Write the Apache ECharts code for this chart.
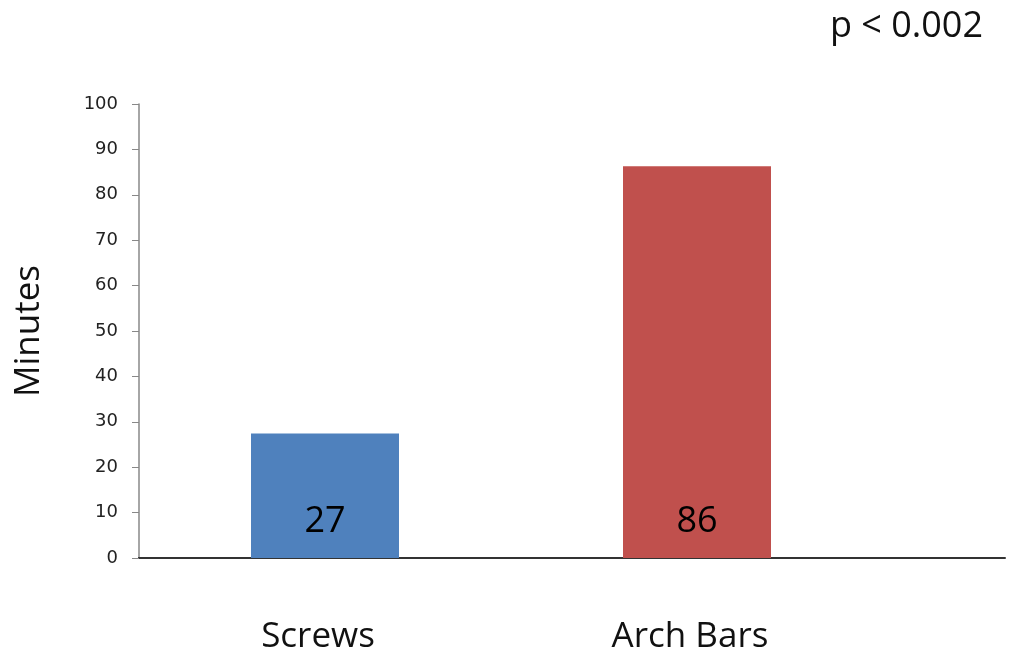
<!DOCTYPE html>
<html><head><meta charset="utf-8">
<script src="https://cdn.jsdelivr.net/npm/echarts@6/dist/echarts.min.js"></script>
<style>html,body{margin:0;padding:0;background:#fff}#c{width:1013px;height:665px}</style>
</head><body><div id="c"></div>
<script>
const categories = ["Screws", "Arch Bars"];
const minutes = [27.4, 86.3];
const barColors = ["#4f81bd", "#c0504d"];
const yTicks = {min: 0, max: 100, interval: 10};
const annotation = "p < 0.002";

const chart = echarts.init(document.getElementById('c'));
chart.setOption({
  animation: false,
  backgroundColor: '#fff',
  title: {text: annotation, right: 25, top: 4,
    textStyle: {fontFamily: 'Open Sans', fontWeight: 'normal', fontSize: 36, color: '#111'}},
  grid: [
    {left: 139, right: 130, top: 104, bottom: 107, outerBoundsMode: 'none', containLabel: false},
    {left: 139, right: 8, top: 104, bottom: 107, outerBoundsMode: 'none', containLabel: false}
  ],
  xAxis: [
    {type: 'category', data: categories, gridIndex: 0,
      axisLine: {lineStyle: {color: '#333', width: 2}},
      axisTick: {show: false},
      axisLabel: {margin: 62, padding: [0, 14, 0, 0], fontFamily: 'Open Sans', fontSize: 35, color: '#111'}},
    {type: 'value', gridIndex: 1, min: 0, max: 1,
      axisLine: {show: true, onZero: false, lineStyle: {color: '#333', width: 2}},
      axisTick: {show: false}, axisLabel: {show: false}, splitLine: {show: false}}
  ],
  yAxis: [
    {type: 'value', gridIndex: 0, min: yTicks.min, max: yTicks.max, interval: yTicks.interval,
      name: 'Minutes', nameLocation: 'middle', nameGap: 92, nameRotate: 90,
      nameTextStyle: {fontFamily: 'Open Sans', fontSize: 35, color: '#111'},
      axisLine: {show: true, lineStyle: {color: '#888', width: 1.5}},
      axisTick: {show: true, length: 7, lineStyle: {color: '#888'}},
      axisLabel: {margin: 21, fontFamily: 'DejaVu Sans', fontSize: 18, color: '#222'},
      splitLine: {show: false}},
    {type: 'value', gridIndex: 1, min: 0, max: 1, show: false}
  ],
  series: [{
    type: 'bar', xAxisIndex: 0, yAxisIndex: 0,
    barWidth: 148,
    data: minutes.map((v, i) => ({value: v, itemStyle: {color: barColors[i]}})),
    label: {show: true, position: 'insideBottom', distance: 18,
      formatter: p => Math.round(p.value),
      fontFamily: 'Open Sans', fontSize: 36, color: '#000'}
  }]
});
</script></body></html>
